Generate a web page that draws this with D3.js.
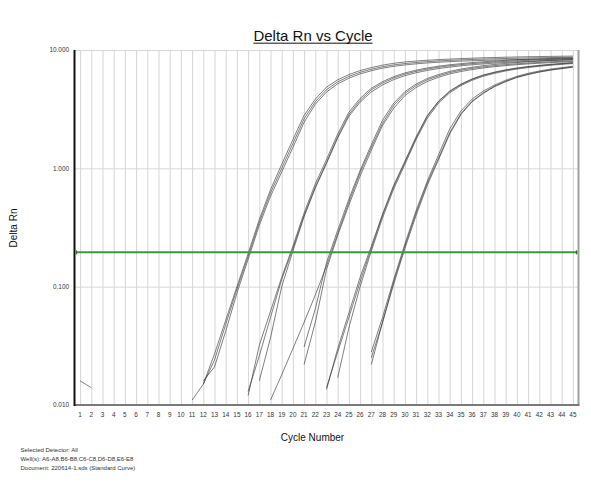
<!DOCTYPE html>
<meta charset="utf-8">
<script src="https://d3js.org/d3.v7.min.js"></script>
<style type="text/css">
body { margin: 0; background: #fff; }
svg { font-family: "Liberation Sans", Arial, sans-serif; }
.grid line { stroke: #d6d6d6; stroke-width: 1px; }
.tick-label { font-size: 6.4px; fill: #333; }
.curve { fill: none; stroke: #2a2a2a; stroke-width: 0.6px; }
.footer { font-size: 6px; fill: #333; }
</style>
<body></body>
<script>

// cycle axis labels and log axis ticks
var cycleTicks = [1,2,3,4,5,6,7,8,9,10,11,12,13,14,15,16,17,18,19,20,21,22,23,24,25,26,27,28,29,30,31,32,33,34,35,36,37,38,39,40,41,42,43,44,45];
var rnTicks = [0.01, 0.1, 1, 10];
var threshold = 0.195;

// wells and the first cycle each series is shown from (values below 0.010 are off scale)
var wells = ["A6","A7","A8","B6","B7","B8","C6","C7","C8","D6","D7","D8","E6","E7","E8"];
var firstCycle = [11,12,12,16,17,16,18,21,21,23,24,23,1,27,27];

var rnA6 = [0.011,0.015,0.027,0.052,0.10,0.19,0.37,0.66,1.08,1.75,2.80,3.85,4.85,5.60,6.20,6.70,7.10,7.45,7.72,7.92,8.07,8.19,8.29,8.38,8.46,8.53,8.59,8.64,8.69,8.73,8.77,8.80,8.83,8.86,8.89];
var rnA7 = [0.015,0.024,0.048,0.095,0.18,0.35,0.62,1.00,1.62,2.62,3.65,4.62,5.38,5.98,6.48,6.88,7.22,7.48,7.68,7.84,7.97,8.08,8.17,8.25,8.32,8.38,8.43,8.48,8.52,8.56,8.60,8.63,8.66,8.69];
var rnA8 = [0.016,0.021,0.042,0.088,0.17,0.33,0.58,0.93,1.50,2.45,3.48,4.42,5.18,5.78,6.28,6.68,7.02,7.28,7.48,7.64,7.77,7.88,7.97,8.05,8.11,8.17,8.22,8.26,8.30,8.34,8.37,8.40,8.43,8.46];
var rnB6 = [0.012,0.032,0.062,0.12,0.22,0.42,0.74,1.19,1.95,2.98,3.90,4.75,5.40,5.95,6.40,6.75,7.05,7.30,7.50,7.67,7.82,7.95,8.07,8.17,8.26,8.34,8.41,8.48,8.54,8.60];
var rnB7 = [0.016,0.037,0.10,0.20,0.39,0.68,1.10,1.80,2.75,3.62,4.42,5.07,5.62,6.07,6.42,6.72,6.97,7.17,7.35,7.50,7.63,7.75,7.85,7.94,8.02,8.10,8.17,8.23,8.29];
var rnB8 = [0.013,0.026,0.055,0.115,0.21,0.40,0.70,1.12,1.85,2.85,3.75,4.60,5.25,5.80,6.25,6.60,6.90,7.15,7.35,7.52,7.67,7.80,7.91,8.01,8.10,8.18,8.25,8.32,8.38,8.44];
var rnC6 = [0.011,0.018,0.030,0.050,0.085,0.15,0.28,0.52,0.92,1.50,2.40,3.40,4.30,5.00,5.60,6.05,6.45,6.75,7.00,7.20,7.38,7.52,7.65,7.76,7.86,7.95,8.03,8.10];
var rnC7 = [0.031,0.065,0.16,0.30,0.55,0.96,1.58,2.55,3.55,4.45,5.15,5.75,6.20,6.60,6.90,7.15,7.37,7.55,7.70,7.83,7.95,8.05,8.14,8.22,8.30];
var rnC8 = [0.022,0.050,0.14,0.27,0.49,0.86,1.42,2.30,3.22,4.12,4.82,5.42,5.88,6.28,6.58,6.83,7.05,7.23,7.38,7.51,7.63,7.73,7.82,7.90,7.98];
var rnD6 = [0.0135,0.030,0.060,0.12,0.22,0.41,0.72,1.15,1.85,2.80,3.70,4.50,5.15,5.70,6.15,6.50,6.80,7.05,7.25,7.42,7.57,7.70,7.82];
var rnD7 = [0.017,0.045,0.10,0.20,0.38,0.67,1.08,1.75,2.65,3.55,4.35,5.00,5.55,6.00,6.35,6.65,6.90,7.10,7.28,7.43,7.56,7.68];
var rnD8 = [0.014,0.028,0.055,0.11,0.21,0.40,0.70,1.12,1.80,2.75,3.65,4.45,5.10,5.65,6.10,6.45,6.75,7.00,7.20,7.37,7.52,7.65,7.77];
var rnE6 = [0.016,0.014,null,null,null,null,null,null,null,null,null,null,null,null,null,null,null,null,null,null,null,null,null,null,null,null,
            0.022,0.050,0.11,0.22,0.42,0.75,1.22,2.00,2.90,3.70,4.35,4.95,5.45,5.90,6.25,6.55,6.80,7.00,7.20];
var rnE7 = [0.028,0.055,0.115,0.23,0.44,0.78,1.30,2.15,3.05,3.85,4.50,5.05,5.55,6.00,6.35,6.65,6.90,7.10,7.30];
var rnE8 = [0.025,0.050,0.105,0.21,0.40,0.72,1.18,1.95,2.85,3.65,4.30,4.90,5.40,5.85,6.20,6.50,6.75,6.95,7.15];

var series = [rnA6,rnA7,rnA8,rnB6,rnB7,rnB8,rnC6,rnC7,rnC8,rnD6,rnD7,rnD8,rnE6,rnE7,rnE8];

var footerLines = [
  "Selected Detector: All",
  "Well(s): A6-A8,B6-B8,C6-C8,D6-D8,E6-E8",
  "Document: 220614-1.sds (Standard Curve)"
];

// svg + margins
var margin = {top: 50, right: 12.5, bottom: 95, left: 74.5};
var width = 591 - margin.left - margin.right;
var height = 500 - margin.top - margin.bottom;

var root = d3.select("body").append("svg")
    .attr("width", 591)
    .attr("height", 500);

var svg = root.append("g")
    .attr("transform", "translate(" + margin.left + "," + margin.top + ")");

// scales
var xScale = d3.scaleLinear()
  .domain([0.5, 45.5])
  .range([0, width]);

var yScale = d3.scaleLog()
  .domain([0.01, 10])
  .range([height, 0]);

// grid
var xGrid = d3.axisBottom(xScale)
  .tickValues(cycleTicks)
  .tickSize(-height)
  .tickFormat("");

svg.append("g")
  .attr("class", "grid")
  .attr("transform", "translate(0," + height + ")")
  .call(xGrid)
  .call(g => g.select(".domain").remove());

var yGrid = d3.axisLeft(yScale)
  .tickValues(rnTicks)
  .tickSize(-width)
  .tickFormat("");

svg.append("g")
  .attr("class", "grid")
  .call(yGrid)
  .call(g => g.select(".domain").remove());

// frame: right border, bottom axis, left axis
svg.append("line")
  .attr("x1", width).attr("x2", width)
  .attr("y1", 0).attr("y2", height)
  .style("stroke", "#a0a0a0").style("stroke-width", 2);

svg.append("line")
  .attr("x1", 0).attr("x2", width + 1)
  .attr("y1", height).attr("y2", height)
  .style("stroke", "#7a7a7a").style("stroke-width", 2.2);

svg.append("line")
  .attr("x1", 0).attr("x2", 0)
  .attr("y1", 0).attr("y2", height + 1)
  .style("stroke", "#111").style("stroke-width", 2);

// tick labels
svg.selectAll(".xlab")
  .data(cycleTicks).enter().append("text")
  .attr("class", "tick-label")
  .attr("x", d => xScale(d))
  .attr("y", height + 11.5)
  .attr("text-anchor", "middle")
  .text(d => d);

svg.selectAll(".ylab")
  .data(rnTicks).enter().append("text")
  .attr("class", "tick-label")
  .attr("x", -5.5)
  .attr("y", d => yScale(d))
  .attr("dy", "0.35em")
  .attr("text-anchor", "end")
  .text(d => d3.format(".3f")(d));

// amplification curves
root.append("clipPath").attr("id", "plotClip")
  .append("rect").attr("x", 0).attr("y", 0).attr("width", width).attr("height", height);

var line = d3.line()
  .defined(d => d.v != null && d.v >= 0.01)
  .x(d => xScale(d.c))
  .y(d => yScale(d.v));

var curveData = series.map(function(vals, i) {
  return vals.map(function(v, j) { return {c: firstCycle[i] + j, v: v}; });
});

svg.append("g")
  .attr("clip-path", "url(#plotClip)")
  .selectAll(".curve")
  .data(curveData).enter().append("path")
  .attr("class", "curve")
  .attr("d", line);

// threshold
var ty = yScale(threshold);
svg.append("line")
  .attr("x1", 1).attr("x2", width - 1)
  .attr("y1", ty).attr("y2", ty)
  .style("stroke", "#3c983c").style("stroke-width", 2);

[2, width - 2].forEach(function(px) {
  svg.append("line")
    .attr("x1", px).attr("x2", px)
    .attr("y1", ty - 2).attr("y2", ty + 2)
    .style("stroke", "#2f6f2f").style("stroke-width", 1.2);
});

// titles
var title = root.append("text")
  .attr("x", 313)
  .attr("y", 40.5)
  .attr("text-anchor", "middle")
  .style("font-size", "15px")
  .style("fill", "#111")
  .text("Delta Rn vs Cycle");

var tw = title.node().getComputedTextLength();
root.append("line")
  .attr("x1", 313 - tw / 2).attr("x2", 313 + tw / 2)
  .attr("y1", 43.2).attr("y2", 43.2)
  .style("stroke", "#111").style("stroke-width", 1);

root.append("text")
  .attr("transform", "translate(17,228) rotate(-90)")
  .attr("text-anchor", "middle")
  .style("font-size", "10px")
  .style("fill", "#111")
  .text("Delta Rn");

root.append("text")
  .attr("x", 312.5)
  .attr("y", 441)
  .attr("text-anchor", "middle")
  .style("font-size", "10px")
  .style("fill", "#111")
  .text("Cycle Number");

root.selectAll(".footer")
  .data(footerLines).enter().append("text")
  .attr("class", "footer")
  .attr("x", 20.5)
  .attr("y", (d, i) => 452.3 + i * 8.8)
  .text(d => d);

</script>
